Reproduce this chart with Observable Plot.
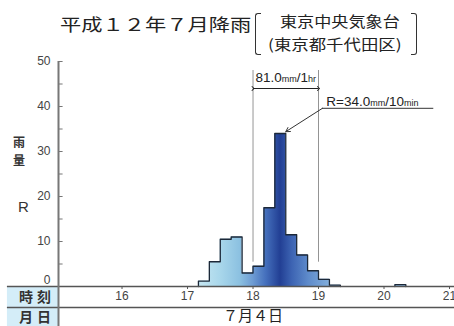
<!DOCTYPE html>
<html><head><meta charset="utf-8">
<script src="https://cdn.jsdelivr.net/npm/d3@7"></script>
<script src="https://cdn.jsdelivr.net/npm/@observablehq/plot@0.6"></script>
<style>
body{margin:0;background:#fff;overflow:hidden}
#wrap{position:relative;width:454px;height:326px;overflow:hidden;font-family:"Noto Sans CJK JP",sans-serif;color:#222}
.abs{position:absolute;white-space:nowrap;transform-origin:0 0}
</style></head><body>
<div id="wrap">
<div id="chart"></div>
<div class="abs" style="left:60px;top:15px;font-size:17px;line-height:17px;transform:scaleX(1.25)">平成１２年７月降雨</div>
<div class="abs" style="left:255px;top:13px;width:5px;height:40px;border:1.5px solid #333;border-right:none;border-radius:3px 0 0 3px"></div>
<div class="abs" style="left:280px;top:13.5px;font-size:14.5px;line-height:14.5px;transform:scaleX(1.18)">東京中央気象台</div>
<div class="abs" style="left:268px;top:36.5px;font-size:14.5px;line-height:14.5px;transform:scaleX(1.2)">(東京都千代田区)</div>
<div class="abs" style="left:411px;top:13px;width:5px;height:40px;border:1.5px solid #333;border-left:none;border-radius:0 3px 3px 0"></div>
<div class="abs" style="left:13px;top:136px;font-size:12px;line-height:12px;font-weight:700;color:#333">雨</div>
<div class="abs" style="left:13px;top:154px;font-size:12px;line-height:12px;font-weight:700;color:#333">量</div>
<div class="abs" style="left:18px;top:198.5px;font-size:15px;line-height:15px;font-family:'Liberation Sans',sans-serif;color:#333">R</div>
</div>
<script>
// ---- data ----
const binStart = ["17:10","17:20","17:30","17:40","17:50","18:00","18:10","18:20","18:30","18:40","18:50","19:00","19:10","20:10"];
const rain10min = [1.2, 5.5, 10.5, 11, 3, 4.5, 17.5, 34, 11.5, 7, 3.5, 1.6, 0.3, 0.4];
const yTickLabels = [10, 20, 30, 40, 50];
const yMinorTicks = [5, 10, 15, 20, 25, 30, 35, 40, 45, 50];
const hourTicks = [16, 17, 18, 19, 20, 21];
const oneHourWindow = [18, 19];
const hourTotalLabel = "81.0mm/1hr";
const peakLabel = "R=34.0mm/10min";
const dateLabel = "７月４日";
const rowLabels = ["時刻", "月日"];

// ---- styles ----
const gradStops = [[17.17,"#c6e7f2"],[17.5,"#a9d7eb"],[17.8,"#8cc1e1"],[18.0,"#6e9cd3"],[18.2,"#4570bd"],[18.42,"#223f94"],[18.6,"#3d64b3"],[18.85,"#5e8bcb"],[19.25,"#8ab6df"]];

const toHour = s => { const [h, m] = s.split(":").map(Number); return h + m / 60; };
const bins = binStart.map((s, i) => ({t0: toHour(s), t1: toHour(s) + 1/6, v: rain10min[i]}));
const outline = [];
let g = 0;
bins.forEach((b, i) => {
  const prev = bins[i - 1];
  if (!prev || Math.abs(prev.t1 - b.t0) > 1e-6) {
    if (prev) outline.push({t: prev.t1, v: 0, g});
    g++;
    outline.push({t: b.t0, v: 0, g});
  }
  outline.push({t: b.t0, v: b.v, g});
});
outline.push({t: bins[bins.length - 1].t1, v: 0, g});
const peak = bins.reduce((a, b) => (b.v > a.v ? b : a));

const xLeft = 15.03, tableLeft = 14.25;
const chart = Plot.plot({
  width: 454, height: 326,
  marginLeft: 58, marginRight: 5, marginTop: 61, marginBottom: 40,
  x: {domain: [xLeft, 21]},
  y: {domain: [0, 50]},
  style: {fontFamily: "'Liberation Sans','Noto Sans CJK JP',sans-serif", fontSize: "12px", color: "#333", background: "#fff"},
  marks: [
    Plot.rect([0], {x1: tableLeft, x2: xLeft, y1: -0.2, y2: -9.5, fill: "#d4edf8"}),
    Plot.areaY(outline, {x: "t", y: "v", z: "g", curve: "step-after", fill: "url(#rainGrad)"}),
    Plot.lineY(outline, {x: "t", y: "v", z: "g", curve: "step-after", stroke: "#1c2838", strokeWidth: 1.3}),
    Plot.ruleX(oneHourWindow, {y1: 5.4, y2: 48, stroke: "#888", strokeWidth: 0.9}),
    Plot.link([oneHourWindow], {x1: d => d[0], x2: d => d[1], y1: 44, y2: 44, markerStart: "arrow", markerEnd: "arrow", stroke: "#222", strokeWidth: 1}),
    Plot.text([hourTotalLabel], {x: d => (oneHourWindow[0] + oneHourWindow[1]) / 2, y: 46.3, text: d => d, fontSize: 13.5, fill: "#222"}),
    Plot.arrow([peak], {x1: 19.06, y1: 39.6, x2: d => d.t1, y2: d => d.v + 0.4, headLength: 7, stroke: "#333", strokeWidth: 1}),
    Plot.ruleY([39.6], {x1: 19.06, x2: 20.76, stroke: "#333", strokeWidth: 1}),
    Plot.text([peakLabel], {x: 19.12, y: 40.1, text: d => d, lineAnchor: "bottom", textAnchor: "start", fontSize: 13.5, fill: "#222"}),
    Plot.ruleY([0, -4.67], {x1: tableLeft, x2: 21.4, stroke: "#555", strokeWidth: 1.3}),
    Plot.ruleX([xLeft], {y1: -9.5, y2: 50, stroke: "#777", strokeWidth: 2}),
    Plot.ruleY(yMinorTicks, {x1: xLeft, x2: xLeft + 0.07, stroke: "#777"}),
    Plot.axisY(yTickLabels, {tickSize: 0, tickPadding: 8, fontSize: 12, fill: "#444", label: null}),
    Plot.text([0], {x: xLeft, y: d => d, text: d => String(d), dx: -8, dy: -6, textAnchor: "end", fontSize: 12, fill: "#444"}),
    Plot.axisX(hourTicks, {anchor: "bottom", tickSize: 3, tickPadding: 2, fontSize: 12, fill: "#444", stroke: "#555", label: null}),
    Plot.text(rowLabels, {x: (tableLeft + xLeft) / 2 + 0.03, y: (d, i) => (i === 0 ? -2.4 : -6.8), text: d => d, fontFamily: "Noto Sans CJK JP", fontSize: 14, fontWeight: "bold", fill: "#333"}),
    Plot.text([dateLabel], {x: 18, y: -6.6, text: d => d, fontFamily: "Noto Sans CJK JP", fontSize: 15, fill: "#222"})
  ]
});

// gradient fill
const xs = chart.scale("x");
const gx0 = xs.apply(gradStops[0][0]), gx1 = xs.apply(gradStops[gradStops.length - 1][0]);
const lg = d3.select(chart).insert("defs", ":first-child").append("linearGradient")
  .attr("id", "rainGrad").attr("gradientUnits", "userSpaceOnUse")
  .attr("x1", gx0).attr("x2", gx1).attr("y1", 0).attr("y2", 0);
gradStops.forEach(([h, c]) => lg.append("stop").attr("offset", (xs.apply(h) - gx0) / (gx1 - gx0)).attr("stop-color", c));

// small units in annotations, spaced row labels
d3.select(chart).selectAll("text").each(function () {
  const t = this.textContent;
  if (t === hourTotalLabel || t === peakLabel) {
    const parts = t.match(/[a-z]+|[^a-z]+/g);
    this.textContent = "";
    parts.forEach(p => {
      const ts = d3.select(this).append("tspan").text(p);
      if (/^[a-z]+$/.test(p)) ts.attr("font-size", 9);
    });
  } else if (rowLabels.includes(t)) {
    d3.select(this).style("letter-spacing", "4px").attr("dx", 2);
  }
});

document.getElementById("chart").appendChild(chart);
</script>
</body></html>
